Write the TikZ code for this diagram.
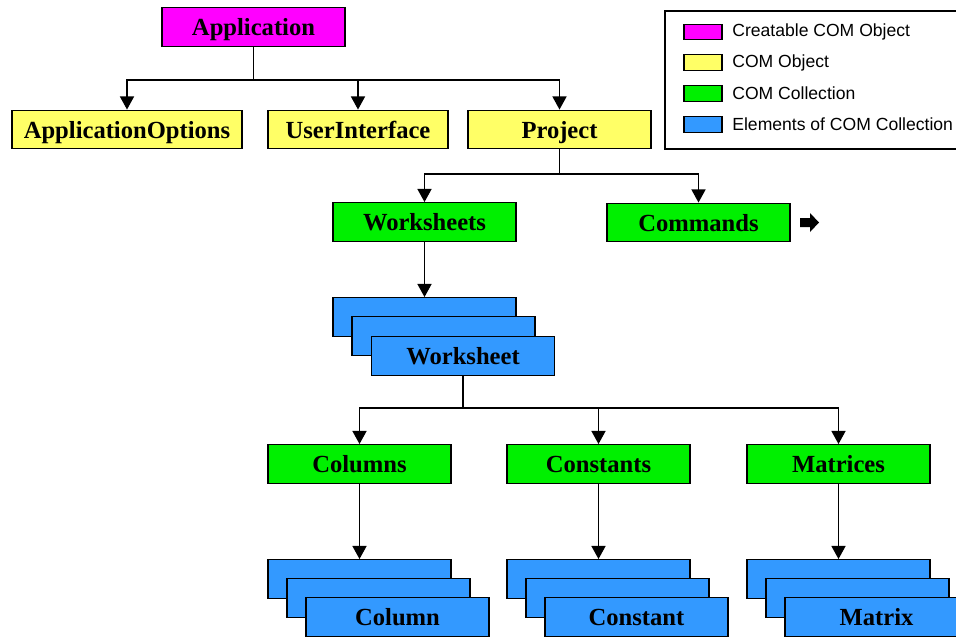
\documentclass[tikz,border=0pt]{standalone}
\usepackage{fontspec}
\setmainfont{Liberation Serif}
\setsansfont{Liberation Sans}
\usetikzlibrary{arrows.meta}
\definecolor{creatable}{HTML}{FF00FF}
\definecolor{comobj}{HTML}{FFFF66}
\definecolor{comcoll}{HTML}{00F000}
\definecolor{comelem}{HTML}{3399FF}
\tikzset{
  box/.style={draw, line width=0.8pt, inner sep=0pt, minimum width=3.66cm, minimum height=0.77cm,
    font=\fontsize{14}{16}\selectfont\bfseries, text height=9.8pt, text depth=0pt},
  elem/.style={box, fill=comelem},
  wire/.style={line width=0.9pt},
  link/.style={wire, -{Triangle[width=8pt,length=7.5pt]}},
  swatch/.style={draw, line width=0.8pt, inner sep=0pt, minimum width=0.76cm, minimum height=0.31cm},
  legtext/.style={anchor=west, inner sep=0pt, font=\sffamily\fontsize{10}{12}\selectfont}
}
\begin{document}
\begin{tikzpicture}[x=0.02cm, y=-0.02cm]
\useasboundingbox (0,0) rectangle (956,640);
% top level
\node[box, fill=creatable] (app) at (253.5,27){Application};
\node[box, fill=comobj, minimum width=4.6cm] (appopt) at (127,129.5){ApplicationOptions};
\node[box, fill=comobj, minimum width=3.6cm] (ui) at (358,129.5){UserInterface};
\node[box, fill=comobj] (proj) at (559.5,129.5){Project};
\coordinate (j0) at (253.5,80);
\draw[wire](app) -- (j0);
\draw[link](j0) -| (appopt);
\draw[link](j0) -| (ui);
\draw[link](j0) -| (proj);
% project
\node[box, fill=comcoll] (wss) at (424.5,222){Worksheets};
\node[box, fill=comcoll] (cmds) at (698.5,222.5){Commands};
\coordinate (j1) at (559.5,174);
\draw[wire](proj) -- (j1);
\draw[link](j1) -| (wss);
\draw[link](j1) -| (cmds);
\fill (800,218) -- (810,218) -- (810,213) -- (819,222.5) -- (810,232) -- (810,227) -- (800,227) -- cycle;
% worksheet stack
\node[elem] (ws1) at (424.5,317){};
\node[elem] (ws2) at (443.5,336){};
\node[elem] (ws) at (463,356){Worksheet};
\draw[link](wss) -- (ws1);
% collections of a worksheet
\node[box, fill=comcoll] (cols) at (359.5,464){Columns};
\node[box, fill=comcoll] (consts) at (598.5,464){Constants};
\node[box, fill=comcoll] (mats) at (838.5,464){Matrices};
\coordinate (j2) at (463,408);
\draw[wire](ws) -- (j2);
\draw[link](j2) -| (cols);
\draw[link](j2) -| (consts);
\draw[link](j2) -| (mats);
% element stacks
\node[elem] (col1) at (359.5,579){};
\node[elem] (col2) at (378.5,598){};
\node[elem] (col) at (397.5,617){Column};
\draw[link](cols) -- (col1);
\node[elem] (const1) at (598.5,579){};
\node[elem] (const2) at (617.5,598){};
\node[elem] (const) at (636.5,617){Constant};
\draw[link](consts) -- (const1);
\node[elem] (mat1) at (838.5,579){};
\node[elem] (mat2) at (857.5,598){};
\node[elem] (mat) at (876.5,617){Matrix};
\draw[link](mats) -- (mat1);
% legend
\draw[wire] (665,11) rectangle (962,149);
\node[swatch, fill=creatable] (key0) at (703,32){};
\node[legtext] (txt0) at (732,32){Creatable COM Object};
\node[swatch, fill=comobj] (key1) at (703,62.5){};
\node[legtext] (txt1) at (732,62.5){COM Object};
\node[swatch, fill=comcoll] (key2) at (703,93.5){};
\node[legtext] (txt2) at (732,93.5){COM Collection};
\node[swatch, fill=comelem] (key3) at (703,124.5){};
\node[legtext] (txt3) at (732,124.5){Elements of COM Collection};
\end{tikzpicture}
\end{document}
